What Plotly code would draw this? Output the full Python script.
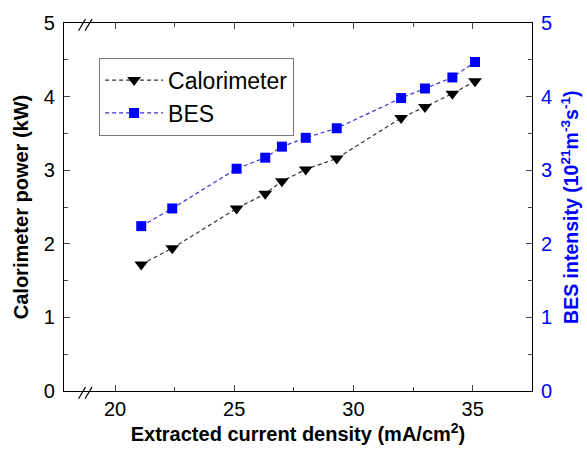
import plotly.graph_objects as go

current_density = [21.1, 22.4, 25.1, 26.3, 27.0, 28.0, 29.3, 32.0, 33.0, 34.15, 35.1]
calorimeter_kw = [1.72, 1.94, 2.48, 2.68, 2.85, 3.01, 3.16, 3.71, 3.86, 4.04, 4.21]
bes_intensity = [2.24, 2.48, 3.02, 3.17, 3.32, 3.44, 3.57, 3.98, 4.11, 4.26, 4.47]

FONT = "Arial, Liberation Sans, sans-serif"
BLUE = "#0000ff"

fig = go.Figure()
fig.add_trace(go.Scatter(
    x=current_density, y=calorimeter_kw, name="Calorimeter",
    mode="lines+markers",
    line=dict(color="#333333", width=1.2, dash="4px,3px"),
    marker=dict(symbol="triangle-down", size=12, color="black"),
))
fig.add_trace(go.Scatter(
    x=current_density, y=bes_intensity, name="BES", yaxis="y2",
    mode="lines+markers",
    line=dict(color="#3333cc", width=1.2, dash="4px,3px"),
    marker=dict(symbol="square", size=10, color=BLUE),
))

# axis-break marks
W, H = 468.0, 377.5
def seg(px0, py0, px1, py1):
    return dict(type="line", xref="paper", yref="paper",
                x0=px0 / W, y0=py0 / H, x1=px1 / W, y1=py1 / H,
                line=dict(color="black", width=1.2))
shapes = []
for base in (0.0, H):
    for dx in (14.5, 21.0):
        shapes.append(seg(dx, base - 8, dx + 7, base + 4))

fig.update_layout(
    width=587, height=452,
    margin=dict(l=64, r=55, t=15.5, b=59),
    paper_bgcolor="white", plot_bgcolor="white",
    font=dict(family=FONT, size=20, color="black"),
    showlegend=True,
    legend=dict(x=0.075, y=0.906, xanchor="left", yanchor="top",
                bordercolor="#777777", borderwidth=1, bgcolor="white",
                font=dict(size=23, family=FONT), itemwidth=58,
                tracegroupgap=0),
    shapes=shapes,
    annotations=[dict(
        text="BES intensity (10<sup>21</sup>m<sup>-3</sup>s<sup>-1</sup>)",
        xref="paper", yref="paper", x=1.081, y=0.50, xanchor="center", yanchor="middle",
        textangle=-90, showarrow=False,
        font=dict(size=19.5, family=FONT, weight="bold", color=BLUE),
    )],
    xaxis=dict(
        range=[17.86, 37.49], tick0=20, dtick=5, ticks="inside", ticklen=6,
        tickwidth=1.2, showline=True, linecolor="black", linewidth=1.2,
        mirror="ticks", showgrid=False, zeroline=False,
        minor=dict(dtick=2.5, tick0=20, ticks="inside", ticklen=4, tickwidth=1.2),
        title=dict(text="Extracted current density (mA/cm<sup>2</sup>)",
                   font=dict(size=20, weight="bold"), standoff=6),
        tickfont=dict(size=20),
    ),
    yaxis=dict(
        range=[0, 5], dtick=1, ticks="inside", ticklen=6, tickwidth=1.2,
        showline=True, linecolor="black", linewidth=1.2, mirror=False,
        showgrid=False, zeroline=False, ticklabelstandoff=4,
        minor=dict(dtick=0.5, ticks="inside", ticklen=4, tickwidth=1.2),
        title=dict(text="Calorimeter power (kW)", font=dict(size=20, weight="bold"), standoff=9),
        tickfont=dict(size=20),
    ),
    yaxis2=dict(
        range=[0, 5], dtick=1, overlaying="y", side="right", ticks="inside",
        ticklen=6, tickwidth=1.2, showline=True, linecolor="black", linewidth=1.2,
        showgrid=False, zeroline=False, ticklabelstandoff=4,
        minor=dict(dtick=0.5, ticks="inside", ticklen=4, tickwidth=1.2),
        tickfont=dict(size=20, color=BLUE),
    ),
)

fig.write_html("out.html", config={"displayModeBar": False},
               post_script="document.body.style.margin='0px';")
